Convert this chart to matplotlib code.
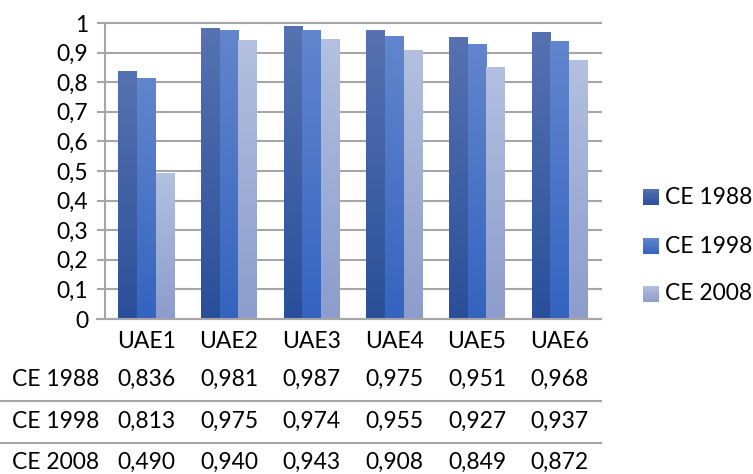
import numpy as np
import matplotlib
matplotlib.use("Agg")
import matplotlib.pyplot as plt
from matplotlib.colors import LinearSegmentedColormap

# --- data -------------------------------------------------------------
categories = ["UAE1", "UAE2", "UAE3", "UAE4", "UAE5", "UAE6"]
series_names = ["CE 1988", "CE 1998", "CE 2008"]
ce_1988 = [0.836, 0.981, 0.987, 0.975, 0.951, 0.968]
ce_1998 = [0.813, 0.975, 0.974, 0.955, 0.927, 0.937]
ce_2008 = [0.490, 0.940, 0.943, 0.908, 0.849, 0.872]
y_ticks = [0, 0.1, 0.2, 0.3, 0.4, 0.5, 0.6, 0.7, 0.8, 0.9, 1.0]

series_values = [ce_1988, ce_1998, ce_2008]
# (top colour, bottom colour) of each series' vertical gradient
gradients = [("#5672b0", "#2a4f99"),
             ("#6286cd", "#3464c0"),
             ("#b3c0e1", "#8c9ccc")]

FONT = "Lato"
FS = 16.5
GRID = "#a6a6a6"

W, H = 753, 474
fig = plt.figure(figsize=(W / 100, H / 100), dpi=100)

# plot area in pixel coordinates
px_left, px_right, px_top, px_bottom = 105, 601, 23, 319
ax = fig.add_axes([px_left / W, 1 - px_bottom / H,
                   (px_right - px_left) / W, (px_bottom - px_top) / H])
ax.set_xlim(-0.5, len(categories) - 0.5)
ax.set_ylim(0, 1)
ax.set_yticks(y_ticks)
ax.set_yticklabels([f"{t:g}".replace(".", ",") for t in y_ticks],
                   fontfamily=FONT, fontsize=FS)
ax.set_xticks([])
for s in ["top", "right", "bottom"]:
    ax.spines[s].set_visible(False)
ax.spines["left"].set_color(GRID)
ax.spines["left"].set_linewidth(1.5)
ax.tick_params(axis="y", length=6, width=1.5, color=GRID, pad=6)
ax.grid(axis="y", color=GRID, linewidth=1.5)
for gl in ax.get_ygridlines():
    gl.set_clip_on(False)
ax.set_axisbelow(True)

bar_w = 0.226
x = np.arange(len(categories))


def gradient_cmap(top, bottom):
    return LinearSegmentedColormap.from_list("g", [bottom, top])


grad_img = np.linspace(0, 1, 256).reshape(-1, 1)
for i, (vals, (top, bottom)) in enumerate(zip(series_values, gradients)):
    cmap = gradient_cmap(top, bottom)
    offs = (i - 1) * bar_w
    bars = ax.bar(x + offs, vals, width=bar_w, color="none", zorder=3)
    for b, v in zip(bars, vals):
        x0 = b.get_x()
        ax.imshow(grad_img, cmap=cmap, origin="lower", aspect="auto",
                  extent=(x0, x0 + bar_w, 0, v), zorder=3,
                  interpolation="bilinear")
ax.set_xlim(-0.5, len(categories) - 0.5)
ax.set_ylim(0, 1)

# overlay in pixel coordinates for the axis line, data table and legend
ov = fig.add_axes([0, 0, 1, 1], zorder=5)
ov.set_xlim(0, W)
ov.set_ylim(H, 0)
ov.axis("off")
ov.patch.set_alpha(0)

ov.plot([97, px_right], [px_bottom - 0.5, px_bottom - 0.5], color=GRID, lw=1.5)


def cat_px(c):
    return px_left + (c + 0.5) * (px_right - px_left) / len(categories)


for c, name in enumerate(categories):
    ov.text(cat_px(c), 341, name, ha="center", va="center",
            fontfamily=FONT, fontsize=FS)

row_y = [379, 421, 462.5]
for name, vals, ry in zip(series_names, series_values, row_y):
    ov.text(12, ry, name, ha="left", va="center", fontfamily=FONT, fontsize=FS)
    for c, v in enumerate(vals):
        ov.text(cat_px(c), ry, f"{v:.3f}".replace(".", ","), ha="center",
                va="center", fontfamily=FONT, fontsize=FS)
for ly in [400.5, 443]:
    ov.plot([0, px_right], [ly, ly], color=GRID, lw=1.5)

# legend
leg_y = [197, 246, 294]
for name, (top, bottom), ly in zip(series_names, gradients, leg_y):
    ov.imshow(grad_img[::-1], cmap=gradient_cmap(top, bottom), origin="upper",
              aspect="auto", extent=(643, 659, ly + 8, ly - 8), zorder=3)
    ov.text(665, ly, name, ha="left", va="center", fontfamily=FONT, fontsize=FS)
ov.set_xlim(0, W)
ov.set_ylim(H, 0)

fig.savefig("out.png", dpi=100)
